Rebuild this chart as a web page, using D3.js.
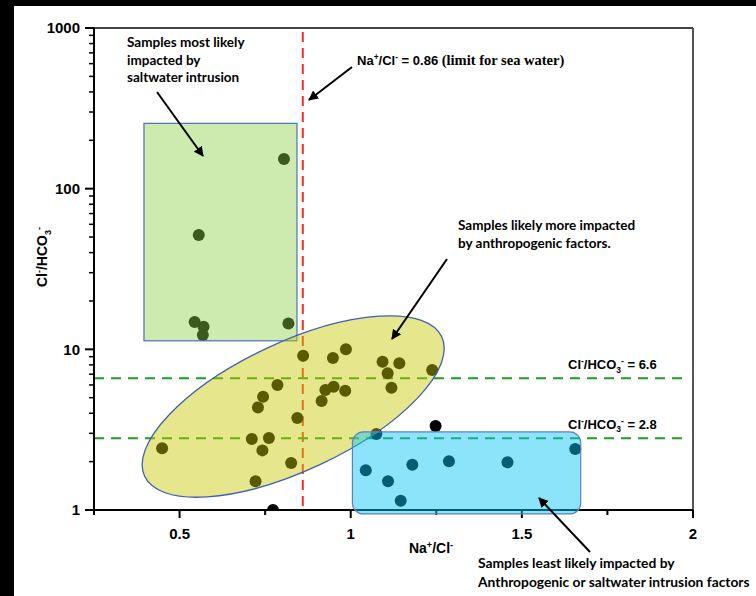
<!DOCTYPE html>
<html><head><meta charset="utf-8">
<script src="https://cdn.jsdelivr.net/npm/d3@7"></script>
<style>html,body{margin:0;padding:0;background:#000;overflow:hidden} svg{display:block}</style>
</head><body><svg id="c" width="756" height="596"></svg>
<script>
// ---- data ----
const naCl   = [0.805,0.556,0.544,0.570,0.568,0.818,
                0.861,0.786,0.744,0.729,0.844,0.711,0.761,0.742,0.449,0.826,0.722,
                0.948,0.986,1.093,1.142,1.108,1.119,1.238,0.950,0.926,0.984,0.915,
                1.075,1.044,1.109,1.146,1.180,1.287,1.458,1.656,
                1.248,0.773];
const clHco3 = [153,51.4,14.8,13.8,12.3,14.5,
                9.12,6.0,5.07,4.35,3.74,2.77,2.81,2.35,2.42,1.96,1.51,
                8.83,10.0,8.37,8.18,7.09,5.77,7.43,5.85,5.58,5.53,4.77,
                2.97,1.77,1.51,1.14,1.91,2.01,1.98,2.40,
                3.33,1.0];
const xTickValues = [0.5,1,1.5,2];
const xTickLabels = ["0.5","1","1.5","2"];
const xMinorValues = [0.25,0.75,1.25,1.75];
const yTickValues = [1,10,100,1000];
const yTickLabels = ["1","10","100","1000"];
const seaWaterLimit = 0.86;
const clLimits = [6.6, 2.8];
const clLimitLabels = ["= 6.6","= 2.8"];
const saltZoneX = [0.396,0.843], saltZoneY = [11.3,255];
const leastZoneX = [1.005,1.672], leastZoneY = [0.945,3.06];
const anthroTipA = [0.398,1.62], anthroTipB = [1.266,11.98];

// ---- setup ----
const W=756,H=596, L=94,R=693,T=28,B=510;
const svg=d3.select("#c");
const x=d3.scaleLinear().domain([0.25,2]).range([L,R]);
const y=d3.scaleLog().domain([1,1000]).range([B,T]);
const ARIAL="'Liberation Sans', Arial, sans-serif";
const CAL="Lato, 'Open Sans', sans-serif";
const TIMES="'Liberation Serif', serif";

svg.append("rect").attr("x",14).attr("y",6).attr("width",W-14).attr("height",H-6).attr("fill","#fff");

const defs=svg.append("defs");
defs.append("clipPath").attr("id","plot").append("rect").attr("x",L).attr("y",T).attr("width",R-L).attr("height",B-T);
defs.append("marker").attr("id","arr").attr("viewBox","0 0 10 10").attr("refX",9).attr("refY",5)
  .attr("markerWidth",5).attr("markerHeight",5).attr("orient","auto-start-reverse")
  .append("path").attr("d","M0,0 L10,5 L0,10 z").attr("fill","#000");

// frame top & right
svg.append("line").attr("x1",L).attr("x2",R).attr("y1",T).attr("y2",T).attr("stroke","#444").attr("stroke-width",2);
svg.append("line").attr("x1",R).attr("x2",R).attr("y1",T).attr("y2",B).attr("stroke","#555").attr("stroke-width",2);

// reference lines
svg.append("line").attr("x1",x(seaWaterLimit)).attr("x2",x(seaWaterLimit)).attr("y1",T+4).attr("y2",B)
  .attr("stroke","#ff2a2a").attr("stroke-width",2).attr("stroke-dasharray","10,6");
svg.selectAll("line.cl").data(clLimits).join("line").attr("class","cl")
  .attr("x1",L).attr("x2",685).attr("y1",d=>y(d)).attr("y2",d=>y(d))
  .attr("stroke","#1e9e1e").attr("stroke-width",2).attr("stroke-dasharray","10,7");

// points (black, tinted by overlays)
svg.append("g").attr("clip-path","url(#plot)").selectAll("circle").data(naCl).join("circle")
  .attr("cx",(d,i)=>x(d)).attr("cy",(d,i)=>y(clHco3[i])).attr("r",6).attr("fill","#000");

// axes
const gx=svg.append("g").attr("transform",`translate(0,${B})`);
gx.append("line").attr("x1",L).attr("x2",R).attr("stroke","#000").attr("stroke-width",2);
gx.selectAll("line.mj").data(xTickValues).join("line").attr("class","mj").attr("x1",d=>x(d)).attr("x2",d=>x(d)).attr("y1",0).attr("y2",8).attr("stroke","#000").attr("stroke-width",2);
gx.selectAll("line.mn").data(xMinorValues).join("line").attr("class","mn").attr("x1",d=>x(d)).attr("x2",d=>x(d)).attr("y1",0).attr("y2",5).attr("stroke","#000").attr("stroke-width",2);
gx.selectAll("text").data(xTickValues).join("text").attr("x",d=>x(d)).attr("y",29).attr("text-anchor","middle")
  .attr("font-family",ARIAL).attr("font-weight","bold").attr("font-size",15).text((d,i)=>xTickLabels[i]);

const gy=svg.append("g").attr("transform",`translate(${L},0)`);
gy.append("line").attr("y1",T).attr("y2",B).attr("stroke","#000").attr("stroke-width",2);
const yMinor=[];
[1,10,100].forEach(dec=>{for(let k=2;k<=9;k++) yMinor.push(dec*k);});
gy.selectAll("line.mj").data(yTickValues).join("line").attr("class","mj").attr("x1",-9).attr("x2",0).attr("y1",d=>y(d)).attr("y2",d=>y(d)).attr("stroke","#000").attr("stroke-width",2);
gy.selectAll("line.mn").data(yMinor).join("line").attr("class","mn").attr("x1",-5).attr("x2",0).attr("y1",d=>y(d)).attr("y2",d=>y(d)).attr("stroke","#000").attr("stroke-width",1.5);
gy.selectAll("text").data(yTickValues).join("text").attr("x",-14).attr("y",d=>y(d)).attr("dy","0.36em").attr("text-anchor","end")
  .attr("font-family",ARIAL).attr("font-weight","bold").attr("font-size",15).text((d,i)=>yTickLabels[i]);

// overlay zones
svg.append("rect").attr("x",x(saltZoneX[0])).attr("y",y(saltZoneY[1]))
  .attr("width",x(saltZoneX[1])-x(saltZoneX[0])).attr("height",y(saltZoneY[0])-y(saltZoneY[1]))
  .attr("fill","rgb(140,209,70)").attr("fill-opacity",0.43).attr("stroke","#4a6fbf").attr("stroke-width",1.2);

const pA=[x(anthroTipA[0]),y(anthroTipA[1])], pB=[x(anthroTipB[0]),y(anthroTipB[1])];
const cx=(pA[0]+pB[0])/2, cy=(pA[1]+pB[1])/2;
const ea=Math.hypot(pB[0]-pA[0],pB[1]-pA[1])/2;
const ang=Math.atan2(pB[1]-pA[1],pB[0]-pA[0])*180/Math.PI;
svg.append("ellipse").attr("cx",0).attr("cy",0).attr("rx",ea).attr("ry",64)
  .attr("transform",`translate(${cx},${cy}) rotate(${ang})`)
  .attr("fill","rgb(200,200,0)").attr("fill-opacity",0.45).attr("stroke","#3f5fb5").attr("stroke-width",1.3);

svg.append("rect").attr("x",x(leastZoneX[0])).attr("y",y(leastZoneY[1]))
  .attr("width",x(leastZoneX[1])-x(leastZoneX[0])).attr("height",y(leastZoneY[0])-y(leastZoneY[1]))
  .attr("rx",11).attr("ry",11)
  .attr("fill","rgb(11,198,245)").attr("fill-opacity",0.47).attr("stroke","#5b7fc7").attr("stroke-width",1.2);

// rich text helper
function rich(g,xp,yp,segs,opts){
  const t=g.append("text").attr("x",xp).attr("y",yp).attr("font-family",opts.font).attr("font-weight","bold")
    .attr("font-size",opts.size).attr("fill","#000");
  if(opts.anchor) t.attr("text-anchor",opts.anchor);
  if(opts.transform) t.attr("transform",opts.transform);
  let cur=0;
  segs.forEach(s=>{
    const sp=t.append("tspan").text(s.t);
    let target=0, fs=s.size||opts.size;
    if(s.sup){target=-opts.size*0.38; fs=opts.size*0.65;}
    if(s.sub){target=opts.size*0.25; fs=opts.size*0.65;}
    sp.attr("dy",target-cur); cur=target;
    sp.attr("font-size",fs);
    if(s.font) sp.style("font-family",s.font);
  });
  return t;
}
function lines(xp,yp,arr,lh,fs){
  arr.forEach((s,i)=>svg.append("text").attr("x",xp).attr("y",yp+i*lh).attr("font-family",CAL).attr("font-weight","bold").attr("font-size",fs||13.5).attr("fill","#000").text(s));
}
function arrow(x1,y1,x2,y2){
  svg.append("line").attr("x1",x1).attr("y1",y1).attr("x2",x2).attr("y2",y2).attr("stroke","#000").attr("stroke-width",2).attr("marker-end","url(#arr)");
}

// axis titles
rich(svg,431,553,[{t:"Na"},{t:"+",sup:true},{t:"/Cl"},{t:"-",sup:true}],{font:ARIAL,size:14,anchor:"middle"});
rich(svg,0,0,[{t:"Cl"},{t:"-",sup:true},{t:"/HCO"},{t:"3",sub:true},{t:"-",sup:true}],{font:ARIAL,size:14,anchor:"middle",transform:"translate(47,257) rotate(-90)"});

// annotations
lines(127,47,["Samples most likely","impacted by","saltwater intrusion"],17.5,13.5);
arrow(157,92,203,156);

rich(svg,357,65,[{t:"Na"},{t:"+",sup:true},{t:"/Cl"},{t:"-",sup:true},{t:" = 0.86 "},{t:"(limit  for  sea water)",font:TIMES,size:14.5}],{font:ARIAL,size:13});
arrow(352,67,309,100);

lines(458,230,["Samples likely more impacted","by anthropogenic factors."],18,13.5);
arrow(447,259,392,339);

clLimits.forEach((v,i)=>{
  rich(svg,568,y(v)-9,[{t:"Cl"},{t:"-",sup:true},{t:"/HCO"},{t:"3",sub:true},{t:"-",sup:true},{t:" "+clLimitLabels[i]}],{font:ARIAL,size:13});
});

lines(478,568,["Samples least likely impacted by","Anthropogenic or saltwater intrusion factors"],19,13.8);
arrow(590,552,539,498);
</script></body></html>
